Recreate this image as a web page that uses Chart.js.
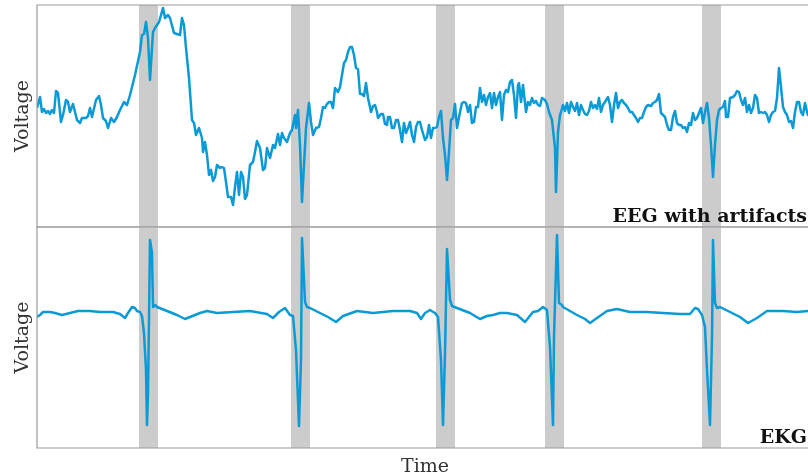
<!DOCTYPE html>
<html>
<head>
<meta charset="utf-8">
<script src="https://cdn.jsdelivr.net/npm/chart.js@4.4.1/dist/chart.umd.min.js"></script>
<style>
  html, body { margin: 0; padding: 0; background: #fff; overflow: hidden; }
  #wrap { position: relative; width: 808px; height: 476px; overflow: hidden; }
  canvas { position: absolute; left: 0; }
  #eegChart { top: 0; }
  #ekgChart { top: 222px; }
</style>
</head>
<body>
<div id="wrap">
  <canvas id="eegChart" width="816" height="236"></canvas>
  <canvas id="ekgChart" width="816" height="254"></canvas>
</div>
<script>
// time in samples, voltage in arbitrary units
var eegTime = [0, 3, 5, 7, 9, 11, 13, 15, 17, 19, 21, 24, 26, 29, 31, 33, 36, 38, 40, 43, 45, 49, 51, 53, 55, 59, 62, 64, 66, 69, 71, 74, 77, 80, 83, 87, 90, 93, 98, 103, 105, 107, 109, 111, 113, 116, 118, 122, 124, 126, 128, 131, 133, 137, 140, 143, 145, 147, 149, 152, 155, 157, 159,
  162, 165, 166, 168, 170, 172, 174, 176, 178, 180, 183, 185, 187, 189, 191, 194, 196, 198, 200, 202, 204, 206, 208, 210, 213, 216, 218, 220, 223, 226, 228, 230, 233, 236, 238, 241, 243, 245, 247, 250, 253, 255, 258, 259, 261, 263, 265, 267, 269, 272, 274, 276, 279, 282, 284, 286, 288, 290, 292, 294, 296, 298, 301, 303, 305, 307, 309, 311, 313,
  315, 317, 319, 321, 323, 325, 327, 329, 331, 334, 336, 338, 340, 341, 344, 346, 348, 350, 351, 353, 355, 357, 359, 361, 363, 365, 367, 369, 371, 373, 375, 377, 379, 381, 383, 385, 388, 390, 392, 394, 396, 398, 400, 402, 404, 406, 408, 410, 412, 414, 416, 418, 420, 423, 425, 427, 429, 431, 433, 435, 437, 439, 441, 443, 445, 447, 449, 451, 453, 455, 457, 459, 461, 463, 465, 467,
  469, 471, 473, 475, 477, 479, 481, 482, 484, 486, 489, 491, 493, 495, 497, 499, 501, 503, 505, 508, 510, 512, 515, 518, 519, 521, 523, 524, 526, 528, 530, 532, 534, 536, 538, 540, 542, 544, 546, 548, 550, 552, 554, 556, 558, 560, 562, 564, 566, 568, 571, 573, 575, 577, 579, 581, 583, 585, 587, 589, 591, 593, 595, 597, 599, 601, 603, 605, 607, 609, 611, 614, 616, 618, 620, 622,
  624, 626, 628, 630, 632, 634, 636, 638, 640, 642, 644, 646, 648, 650, 652, 654, 656, 658, 660, 662, 664, 666, 668, 670, 672, 674, 676, 678, 680, 682, 684, 686, 688, 689, 691, 693, 696, 698, 700, 702, 704, 706, 708, 710, 712, 714, 716, 718, 720, 722, 724, 726, 728, 730, 732, 734, 736, 738, 740, 742, 744, 746, 748, 750, 752, 754, 756, 758, 760, 762, 764, 766, 768, 770, 771, 774, 776];
var eegValue = [119, 130, 115, 118, 114, 116, 113, 117, 114, 136, 134, 105, 112, 127, 125, 115, 123, 115, 107, 104, 109, 109, 111, 119, 110, 127, 131, 122, 109, 106, 99, 109, 105, 110, 117, 125, 122, 132, 152, 175, 192, 193, 205, 189, 147, 195, 199, 205, 212, 219, 209, 212, 209, 194, 193, 192, 209, 202, 179, 149, 107, 104, 92,
  99, 89, 75, 85, 72, 52, 57, 46, 50, 62, 59, 60, 59, 45, 30, 30, 22, 40, 55, 32, 55, 50, 28, 32, 62, 65, 75, 86, 79, 57, 59, 79, 69, 82, 79, 93, 82, 94, 89, 85, 94, 97, 112, 99, 117, 82, 25, 62, 99, 124, 105, 92, 99, 100, 109, 120, 119, 123, 125, 125, 119, 139, 135, 140, 152, 164, 167, 175, 180,
  180, 172, 159, 158, 133, 133, 131, 144, 129, 115, 121, 122, 115, 109, 113, 113, 103, 102, 110, 110, 99, 99, 107, 107, 97, 85, 104, 94, 99, 105, 92, 85, 100, 105, 105, 97, 87, 90, 102, 89, 99, 99, 100, 110, 116, 89, 72, 47, 75, 107, 109, 123, 99, 115, 124, 125, 124, 115, 122, 104, 105, 120, 120, 139, 125, 132, 122, 130, 134, 119, 134, 122, 130, 135, 107, 132,
  137, 135, 145, 147, 132, 109, 142, 144, 125, 142, 115, 125, 122, 129, 124, 126, 122, 121, 129, 127, 123, 115, 107, 79, 35, 95, 112, 115, 122, 116, 124, 114, 125, 120, 116, 124, 112, 122, 117, 113, 112, 116, 125, 119, 122, 118, 129, 115, 122, 125, 130, 122, 105, 122, 134, 119, 125, 127, 124, 122, 119, 115, 115, 112, 109, 105, 109, 109, 115, 120, 122, 121, 124, 125, 127, 133,
  114, 112, 110, 102, 97, 97, 110, 116, 104, 102, 102, 99, 100, 95, 104, 102, 114, 107, 109, 114, 119, 104, 115, 124, 109, 82, 50, 82, 107, 117, 119, 120, 126, 110, 110, 129, 130, 132, 136, 135, 127, 122, 129, 115, 122, 114, 119, 132, 129, 114, 115, 114, 115, 112, 105, 112, 115, 116, 129, 159, 140, 120, 115, 112, 105, 106, 99, 115, 125, 125, 115, 112, 124, 115, 112, 119, 117];

var ekgTime = [0, 3, 6, 13, 18, 25, 33, 41, 53, 63, 76, 83, 88, 91, 95, 98, 100, 103, 105, 107, 109, 110, 111, 112, 113, 115, 116, 118, 120, 130, 140, 148, 153, 163, 170, 180, 196, 213, 230, 236, 242, 248, 253, 256, 259, 262, 264, 265, 268, 270, 273, 283, 291, 299, 306, 320, 336, 356, 373, 380, 384, 388, 393, 398, 401, 404, 406, 408, 410, 413, 415, 420, 433, 443, 450, 456, 463, 470, 480, 488, 492, 496, 501, 506, 510, 513, 516, 517, 520, 522, 525, 526, 540, 548, 553, 560, 570, 580, 593, 610, 626, 643, 653, 658, 661, 665, 668, 670, 673, 675, 676, 678, 680, 683, 693, 703, 711, 720, 730, 746, 760, 771, 776];
var ekgValue = [131, 133, 136, 136, 135, 133, 135, 137, 137, 136, 136, 134, 130, 135, 141, 140, 137, 136, 132, 115, 78, 23, 55, 128, 208, 195, 141, 143, 141, 137, 133, 129, 131, 135, 137, 135, 136, 137, 134, 130, 136, 140, 133, 132, 98, 22, 88, 210, 146, 141, 140, 135, 131, 126, 132, 137, 135, 137, 137, 135, 129, 135, 138, 135, 131, 88, 23, 95, 199, 148, 142, 140, 135, 129, 132, 133, 135, 135, 133, 126, 131, 136, 137, 141, 138, 101, 23, 111, 213, 145, 143, 141, 133, 129, 125, 130, 137, 139, 136, 136, 135, 134, 134, 140, 139, 133, 121, 78, 23, 111, 208, 145, 140, 141, 136, 131, 125, 130, 137, 137, 136, 137, 137];

// shaded artifact windows
var bandStart = [102, 254, 399, 508, 665];
var bandEnd = [121, 273, 418, 527, 684];

var timeMax = 776;
var lineColor = '#0a9ad6';
var serif = '"DejaVu Serif", serif';

function toPoints(xs, ys) {
  return xs.map(function (x, i) { return { x: x, y: ys[i] }; });
}

var panelPlugin = {
  id: 'panelDecor',
  beforeDatasetsDraw: function (chart) {
    var ctx = chart.ctx, area = chart.chartArea, xs = chart.scales.x;
    ctx.save();
    ctx.fillStyle = '#cccccc';
    for (var i = 0; i < bandStart.length; i++) {
      var x0 = xs.getPixelForValue(bandStart[i]);
      var x1 = xs.getPixelForValue(bandEnd[i]);
      ctx.fillRect(x0, area.top, x1 - x0, area.bottom - area.top);
    }
    ctx.restore();
  },
  afterDraw: function (chart, args, opts) {
    var ctx = chart.ctx, area = chart.chartArea;
    ctx.save();
    // frame
    ctx.strokeStyle = '#999999';
    ctx.lineWidth = 1.2;
    ctx.beginPath();
    ctx.moveTo(area.right, area.top);
    ctx.lineTo(area.left, area.top);
    ctx.lineTo(area.left, area.bottom);
    ctx.lineTo(area.right, area.bottom);
    ctx.stroke();

    // y title
    ctx.fillStyle = '#333333';
    ctx.font = '19px ' + serif;
    ctx.textAlign = 'center';
    ctx.textBaseline = 'middle';
    ctx.translate(23, (area.top + area.bottom) / 2);
    ctx.rotate(-Math.PI / 2);
    ctx.fillText('Voltage', 0, 0);
    ctx.setTransform(1, 0, 0, 1, 0, 0);

    // panel label
    ctx.fillStyle = '#111111';
    ctx.font = 'bold 19px ' + serif;
    ctx.textAlign = 'right';
    ctx.textBaseline = 'alphabetic';
    ctx.fillText(opts.label, 807, area.bottom - 5);

    if (opts.xTitle) {
      ctx.fillStyle = '#333333';
      ctx.font = '19px ' + serif;
      ctx.textAlign = 'center';
      ctx.fillText(opts.xTitle, (area.left + area.right) / 2, area.bottom + 24);
    }
    ctx.restore();
  }
};

function makePanel(id, xs, ys, yMax, padBottom, label, xTitle) {
  return new Chart(document.getElementById(id), {
    type: 'line',
    data: {
      datasets: [{
        data: toPoints(xs, ys),
        borderColor: lineColor,
        borderWidth: 2.5,
        borderJoinStyle: 'round',
        pointRadius: 0,
        tension: 0,
        fill: false
      }]
    },
    options: {
      responsive: false,
      animation: false,
      devicePixelRatio: 1,
      layout: { padding: { top: 5, left: 37, right: 3, bottom: padBottom } },
      scales: {
        x: { type: 'linear', min: 0, max: timeMax, display: false },
        y: { min: 0, max: yMax, display: false }
      },
      plugins: {
        legend: { display: false },
        tooltip: { enabled: false },
        panelDecor: { label: label, xTitle: xTitle }
      }
    },
    plugins: [panelPlugin]
  });
}

var eegChart = makePanel('eegChart', eegTime, eegValue, 222, 9, 'EEG with artifacts', null);
var ekgChart = makePanel('ekgChart', ekgTime, ekgValue, 221, 28, 'EKG', 'Time');
</script>
</body>
</html>
